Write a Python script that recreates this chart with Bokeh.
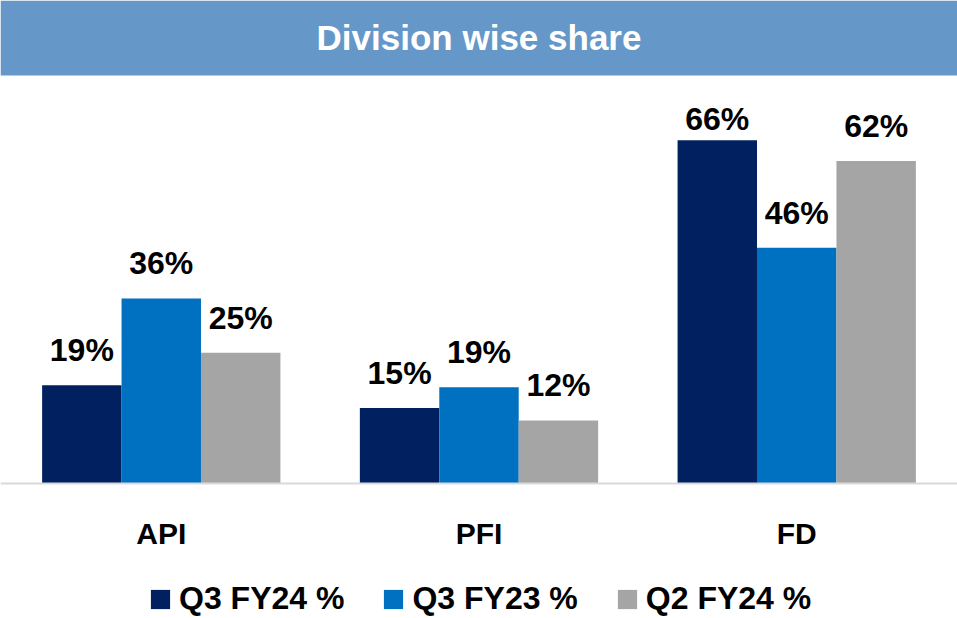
from bokeh.plotting import figure
from bokeh.models import (FactorRange, Range1d, ColumnDataSource, Legend, LegendItem,
                          BoxAnnotation, Label, LabelSet)
from bokeh.transform import dodge
from bokeh.core.properties import value
from bokeh.embed import file_html
from bokeh.resources import INLINE

# ---------------- data ----------------
categories = ["API", "PFI", "FD"]
series_names = ["Q3 FY24 %", "Q3 FY23 %", "Q2 FY24 %"]
q3_fy24 = [19.0, 14.6, 66.4]
q3_fy23 = [35.8, 18.6, 45.6]
q2_fy24 = [25.3, 12.2, 62.4]
title_text = "Division wise share"

# ---------------- style ----------------
colors = ["#002060", "#0070C0", "#A5A5A5"]
title_bg = "#6598C8"
FONT = "Liberation Sans"
W, H = 957, 618
BASE_PX = 483              # baseline distance from the top of the figure
PX_PER_UNIT = 5.17
y_top = BASE_PX / PX_PER_UNIT
y_bottom = -(H - BASE_PX) / PX_PER_UNIT
TITLE_BAR_PX = 75
LABEL_GAP_PX = 24
LABEL_TOP_LIMIT_PX = 129

series = [q3_fy24, q3_fy23, q2_fy24]
offsets = [-0.25, 0.0, 0.25]

p = figure(width=W, height=H,
           x_range=FactorRange(*categories, range_padding=0.006, range_padding_units="absolute"),
           y_range=Range1d(y_bottom, y_top),
           output_backend="svg", toolbar_location=None, tools="",
           min_border=0, y_axis_location=None)
p.outline_line_color = None
p.xgrid.grid_line_color = None
p.ygrid.grid_line_color = None
p.background_fill_color = "white"
p.border_fill_color = "white"

# title bar
p.add_layout(BoxAnnotation(bottom=y_top - TITLE_BAR_PX / PX_PER_UNIT,
                           fill_color=title_bg, fill_alpha=1.0, line_color=None))
p.add_layout(Label(x=len(categories) / 2, y=y_top, y_offset=-37, text=title_text,
                   text_font=FONT, text_font_size="35px", text_font_style="bold",
                   text_color="white", text_align="center", text_baseline="alphabetic"))

label_max = (BASE_PX - LABEL_TOP_LIMIT_PX) / PX_PER_UNIT
items = []
for name, vals, off, col in zip(series_names, series, offsets, colors):
    src = ColumnDataSource(dict(
        cat=categories, val=vals,
        lab=[f"{int(v + 0.5)}%" for v in vals],
        ly=[min(v + LABEL_GAP_PX / PX_PER_UNIT, label_max) for v in vals],
    ))
    r = p.vbar(x=dodge("cat", off, range=p.x_range), top="val", bottom=0, width=0.25,
               source=src, fill_color=col, line_color=None)
    p.add_layout(LabelSet(x=dodge("cat", off, range=p.x_range), y="ly", text="lab",
                          source=src, text_align="center", text_baseline="alphabetic",
                          text_font=value(FONT), text_font_size="32px",
                          text_font_style="bold", text_color="black"))
    items.append(LegendItem(label=name, renderers=[r]))

ax = p.xaxis[0]
ax.fixed_location = 0
ax.axis_line_color = "#D9D9D9"
ax.axis_line_width = 2
ax.major_tick_line_color = None
ax.minor_tick_line_color = None
ax.major_label_standoff = 27
ax.major_label_text_font = FONT
ax.major_label_text_font_size = "30px"
ax.major_label_text_font_style = "bold"
ax.major_label_text_color = "black"

legend = Legend(items=items, orientation="horizontal", location=(148, 1),
                glyph_width=24, glyph_height=24, label_standoff=7, spacing=37,
                padding=0, margin=0, border_line_color=None, background_fill_alpha=0,
                label_text_font=FONT, label_text_font_size="32px",
                label_text_font_style="bold", label_text_color="black",
                label_height=20)
p.add_layout(legend, "center")

open("out.html", "w").write(file_html(p, INLINE))
